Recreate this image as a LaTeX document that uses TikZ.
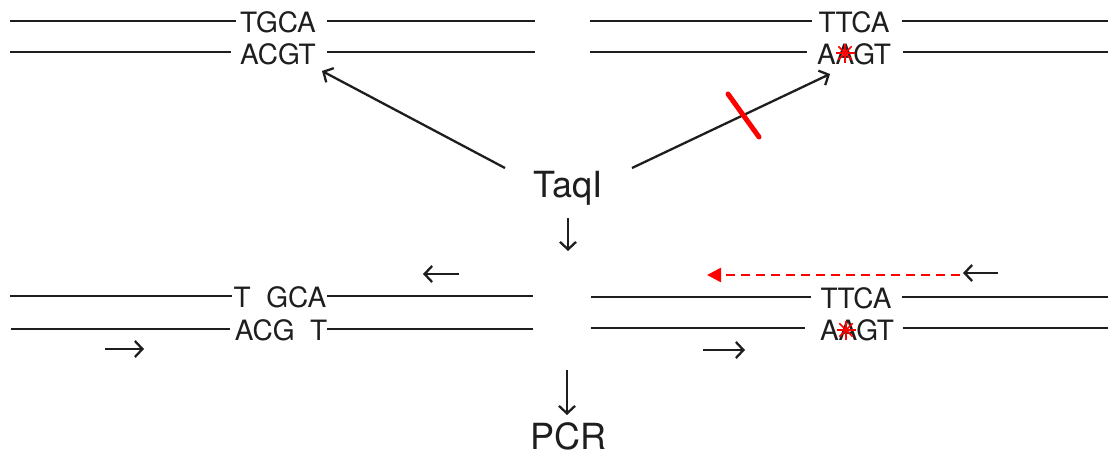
\documentclass[tikz,border=0pt]{standalone}
\usepackage{fontspec}
\setmainfont{TeX Gyre Heros}
\usetikzlibrary{arrows.meta,calc}
\definecolor{ink}{HTML}{1E1E1E}
\begin{document}
\begin{tikzpicture}[x=1pt,y=-1pt,
  strand/.style={draw=ink, line width=2.6pt},
  seq/.style={font=\fontsize{28}{30}\selectfont, text=ink, inner sep=0pt, anchor=base},
  title/.style={font=\fontsize{36}{40}\selectfont, text=ink, inner sep=0pt, anchor=base},
  flow/.style={draw=ink, line width=2.3pt, -{Straight Barb[length=7.5pt,width=16pt,line width=2.3pt]}},
  block/.style={draw=red, line width=5pt, line cap=round},
  extend/.style={draw=red, line width=2.6pt, dash pattern=on 9pt off 6pt,
    -{Triangle[length=14pt,width=14pt]}},
  mut/.style={draw=red, line width=1.5pt}]
\useasboundingbox (0,0) rectangle (1108,455);

% --- intact site (left) and mutated site (right) before digestion
\node[seq] (tl1) at (278,32) {TGCA};
\node[seq] (tl2) at (278,64) {ACGT};
\node[seq] (tr1) at (854,32) {TTCA};
\node[seq] (tr2) at (854,64) {AAGT};

\draw[strand] (10,21) -- (236,21);  \draw[strand] (327,21) -- (535,21);
\draw[strand] (10,52) -- (231,52);  \draw[strand] (327,52) -- (535,52);
\draw[strand] (590,21) -- (812,21); \draw[strand] (902,21) -- (1108,21);
\draw[strand] (590,52) -- (807,52); \draw[strand] (903,52) -- (1108,52);

% point mutation on the right-hand site
\coordinate (m1) at (845,53);
\foreach \a in {0,45,90,135}
  \draw[mut] ($(m1)+(\a:9.5)$) -- ($(m1)+(\a+180:9.5)$);

% --- enzyme
\node[title] (taq) at (568,197) {TaqI};
\coordinate (taqL) at (505,168);
\coordinate (taqR) at (632,168);
\coordinate (cutL) at (322,71);
\coordinate (cutR) at (830,74);
\draw[flow] (taqL) -- (cutL);
\draw[flow] (taqR) -- (cutR);
\draw[block] (728,94) -- (759,137);

\coordinate (d1) at (568,218);
\coordinate (d2) at (568,251);
\draw[flow] (d1) -- (d2);

% --- after digestion
\node[seq] (bl1) at (280,307) {T\ \ GCA};
\node[seq] (bl2) at (281,340) {ACG\ \ T};
\node[seq] (br1) at (856,308) {TTCA};
\node[seq] (br2) at (857,340) {AAGT};

\draw[strand] (10,296) -- (232,296);  \draw[strand] (327,296) -- (533,296);
\draw[strand] (11,329) -- (230,329);  \draw[strand] (327,329) -- (533,329);
\draw[strand] (591,297) -- (811,297); \draw[strand] (902,297) -- (1108,297);
\draw[strand] (591,328) -- (805,328); \draw[strand] (903,328) -- (1108,328);

\coordinate (m2) at (846,330);
\foreach \a in {0,45,90,135}
  \draw[mut] ($(m2)+(\a:9.5)$) -- ($(m2)+(\a+180:9.5)$);

% primers
\draw[flow] (459,274) -- (423,274);
\draw[flow] (105,349) -- (144,349);
\draw[flow] (703,350) -- (745,350);
\draw[flow] (998,273) -- (963,273);
\draw[extend] (960,275) -- (707,275);

% --- amplification
\node[title] (pcr) at (568,449) {PCR};
\coordinate (p1) at (567,370);
\coordinate (p2) at (567,415);
\draw[flow] (p1) -- (p2);
\end{tikzpicture}
\end{document}
